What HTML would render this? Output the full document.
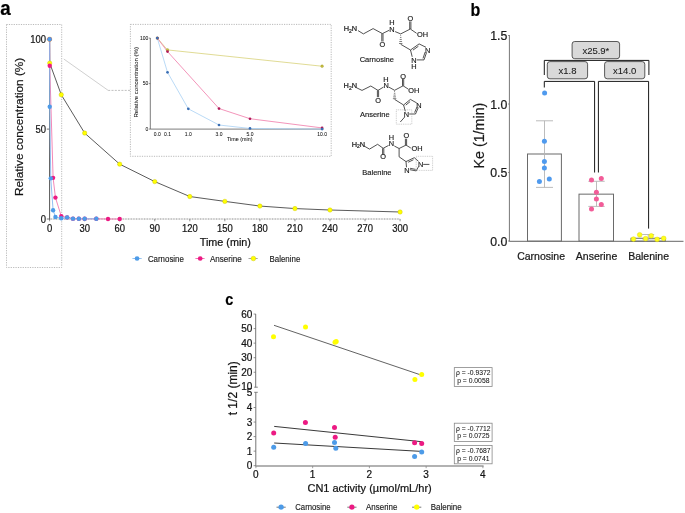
<!DOCTYPE html><html><head><meta charset="utf-8"><style>html,body{margin:0;padding:0;background:#fff;}svg{display:block;will-change:transform;}text{font-family:"Liberation Sans", sans-serif;stroke:#1a1a1a;stroke-width:0.22px;}</style></head><body>
<svg width="685" height="513" viewBox="0 0 685 513">
<rect width="685" height="513" fill="#fff"/>
<text x="0" y="0" font-size="19.4" text-anchor="start" fill="#000" font-weight="bold" transform="translate(0.2,15.2) scale(0.97,1)">a</text>
<rect x="6.5" y="24.5" width="55.2" height="243" fill="none" stroke="#a8a8a8" stroke-width="0.8" stroke-dasharray="1.2,1.2"/>
<rect x="130.4" y="24.4" width="200.8" height="131.9" fill="none" stroke="#a8a8a8" stroke-width="0.8" stroke-dasharray="1.2,1.2"/>
<polyline points="63.8,59 108.2,90.4" fill="none" stroke="#c4c4c4" stroke-width="0.8" stroke-linejoin="round" />
<line x1="108.2" y1="90.4" x2="130.4" y2="90.4" stroke="#b0b0b0" stroke-width="0.8" stroke-dasharray="2,1.3"/>
<line x1="49.6" y1="219" x2="400.1" y2="219" stroke="#808080" stroke-width="1.0" stroke-dasharray="0.9,0.7"/>
<line x1="49.6" y1="219" x2="49.6" y2="221.3" stroke="#777" stroke-width="0.8" />
<text x="49.6" y="231.6" font-size="10" text-anchor="middle" fill="#111" font-weight="normal" textLength="5.25" lengthAdjust="spacingAndGlyphs">0</text>
<line x1="84.65" y1="219" x2="84.65" y2="221.3" stroke="#777" stroke-width="0.8" />
<text x="84.65" y="231.6" font-size="10" text-anchor="middle" fill="#111" font-weight="normal" textLength="10.50" lengthAdjust="spacingAndGlyphs">30</text>
<line x1="119.7" y1="219" x2="119.7" y2="221.3" stroke="#777" stroke-width="0.8" />
<text x="119.7" y="231.6" font-size="10" text-anchor="middle" fill="#111" font-weight="normal" textLength="10.50" lengthAdjust="spacingAndGlyphs">60</text>
<line x1="154.75" y1="219" x2="154.75" y2="221.3" stroke="#777" stroke-width="0.8" />
<text x="154.75" y="231.6" font-size="10" text-anchor="middle" fill="#111" font-weight="normal" textLength="10.50" lengthAdjust="spacingAndGlyphs">90</text>
<line x1="189.8" y1="219" x2="189.8" y2="221.3" stroke="#777" stroke-width="0.8" />
<text x="189.8" y="231.6" font-size="10" text-anchor="middle" fill="#111" font-weight="normal" textLength="15.75" lengthAdjust="spacingAndGlyphs">120</text>
<line x1="224.84" y1="219" x2="224.84" y2="221.3" stroke="#777" stroke-width="0.8" />
<text x="224.84" y="231.6" font-size="10" text-anchor="middle" fill="#111" font-weight="normal" textLength="15.75" lengthAdjust="spacingAndGlyphs">150</text>
<line x1="259.89" y1="219" x2="259.89" y2="221.3" stroke="#777" stroke-width="0.8" />
<text x="259.89" y="231.6" font-size="10" text-anchor="middle" fill="#111" font-weight="normal" textLength="15.75" lengthAdjust="spacingAndGlyphs">180</text>
<line x1="294.94" y1="219" x2="294.94" y2="221.3" stroke="#777" stroke-width="0.8" />
<text x="294.94" y="231.6" font-size="10" text-anchor="middle" fill="#111" font-weight="normal" textLength="15.75" lengthAdjust="spacingAndGlyphs">210</text>
<line x1="329.99" y1="219" x2="329.99" y2="221.3" stroke="#777" stroke-width="0.8" />
<text x="329.99" y="231.6" font-size="10" text-anchor="middle" fill="#111" font-weight="normal" textLength="15.75" lengthAdjust="spacingAndGlyphs">240</text>
<line x1="365.04" y1="219" x2="365.04" y2="221.3" stroke="#777" stroke-width="0.8" />
<text x="365.04" y="231.6" font-size="10" text-anchor="middle" fill="#111" font-weight="normal" textLength="15.75" lengthAdjust="spacingAndGlyphs">270</text>
<line x1="400.09" y1="219" x2="400.09" y2="221.3" stroke="#777" stroke-width="0.8" />
<text x="400.09" y="231.6" font-size="10" text-anchor="middle" fill="#111" font-weight="normal" textLength="15.75" lengthAdjust="spacingAndGlyphs">300</text>
<line x1="49.6" y1="39" x2="49.6" y2="219.5" stroke="#555" stroke-width="1.0" />
<line x1="46.8" y1="219" x2="49.6" y2="219" stroke="#555" stroke-width="0.8" />
<text x="45.9" y="222.6" font-size="10" text-anchor="end" fill="#111" font-weight="normal" textLength="5.25" lengthAdjust="spacingAndGlyphs">0</text>
<line x1="46.8" y1="129.1" x2="49.6" y2="129.1" stroke="#555" stroke-width="0.8" />
<text x="45.9" y="132.7" font-size="10" text-anchor="end" fill="#111" font-weight="normal" textLength="10.50" lengthAdjust="spacingAndGlyphs">50</text>
<line x1="46.8" y1="39.2" x2="49.6" y2="39.2" stroke="#555" stroke-width="0.8" />
<text x="45.9" y="42.8" font-size="10" text-anchor="end" fill="#111" font-weight="normal" textLength="15.75" lengthAdjust="spacingAndGlyphs">100</text>
<text x="225.3" y="246.3" font-size="10.8" text-anchor="middle" fill="#111" font-weight="normal" >Time (min)</text>
<text x="0" y="0" font-size="11.8" text-anchor="middle" fill="#111" font-weight="normal" transform="translate(22.9,126.9) rotate(-90)">Relative concentration (%)</text>
<polyline points="49.6,39.2 49.72,63.11 61.28,94.76 84.65,133.06 119.7,164.16 154.75,181.6 189.8,196.53 224.84,201.38 259.89,206.05 294.94,208.57 329.99,210.01 400.09,211.99" fill="none" stroke="#484848" stroke-width="0.9" stroke-linejoin="round" />
<polyline points="49.6,39.2 49.72,65.81 53.1,177.83 55.44,197.6 61.28,216.12 67.12,217.38 72.97,218.64 78.81,218.82 84.65,218.82 96.33,218.82 108.01,219 119.7,219" fill="none" stroke="#f27bb0" stroke-width="0.9" stroke-linejoin="round" />
<polyline points="49.6,39.2 49.72,106.8 50.77,178.37 53.1,210.19 55.44,217.02 61.28,218.28 67.12,217.38 72.97,218.64 78.81,218.82 84.65,218.82 96.33,218.82" fill="none" stroke="#86b8f0" stroke-width="0.9" stroke-linejoin="round" />
<circle cx="49.6" cy="39.2" r="2.2" fill="#ffff00" stroke="#c8c000" stroke-width="0.4"/>
<circle cx="49.72" cy="63.11" r="2.2" fill="#ffff00" stroke="#c8c000" stroke-width="0.4"/>
<circle cx="61.28" cy="94.76" r="2.2" fill="#ffff00" stroke="#c8c000" stroke-width="0.4"/>
<circle cx="84.65" cy="133.06" r="2.2" fill="#ffff00" stroke="#c8c000" stroke-width="0.4"/>
<circle cx="119.7" cy="164.16" r="2.2" fill="#ffff00" stroke="#c8c000" stroke-width="0.4"/>
<circle cx="154.75" cy="181.6" r="2.2" fill="#ffff00" stroke="#c8c000" stroke-width="0.4"/>
<circle cx="189.8" cy="196.53" r="2.2" fill="#ffff00" stroke="#c8c000" stroke-width="0.4"/>
<circle cx="224.84" cy="201.38" r="2.2" fill="#ffff00" stroke="#c8c000" stroke-width="0.4"/>
<circle cx="259.89" cy="206.05" r="2.2" fill="#ffff00" stroke="#c8c000" stroke-width="0.4"/>
<circle cx="294.94" cy="208.57" r="2.2" fill="#ffff00" stroke="#c8c000" stroke-width="0.4"/>
<circle cx="329.99" cy="210.01" r="2.2" fill="#ffff00" stroke="#c8c000" stroke-width="0.4"/>
<circle cx="400.09" cy="211.99" r="2.2" fill="#ffff00" stroke="#c8c000" stroke-width="0.4"/>
<circle cx="49.6" cy="39.2" r="2.2" fill="#ec1a83" stroke="none" stroke-width="0"/>
<circle cx="49.72" cy="65.81" r="2.2" fill="#ec1a83" stroke="none" stroke-width="0"/>
<circle cx="53.1" cy="177.83" r="2.2" fill="#ec1a83" stroke="none" stroke-width="0"/>
<circle cx="55.44" cy="197.6" r="2.2" fill="#ec1a83" stroke="none" stroke-width="0"/>
<circle cx="61.28" cy="216.12" r="2.2" fill="#ec1a83" stroke="none" stroke-width="0"/>
<circle cx="67.12" cy="217.38" r="2.2" fill="#ec1a83" stroke="none" stroke-width="0"/>
<circle cx="72.97" cy="218.64" r="2.2" fill="#ec1a83" stroke="none" stroke-width="0"/>
<circle cx="78.81" cy="218.82" r="2.2" fill="#ec1a83" stroke="none" stroke-width="0"/>
<circle cx="84.65" cy="218.82" r="2.2" fill="#ec1a83" stroke="none" stroke-width="0"/>
<circle cx="96.33" cy="218.82" r="2.2" fill="#ec1a83" stroke="none" stroke-width="0"/>
<circle cx="108.01" cy="219" r="2.2" fill="#ec1a83" stroke="none" stroke-width="0"/>
<circle cx="119.7" cy="219" r="2.2" fill="#ec1a83" stroke="none" stroke-width="0"/>
<circle cx="49.6" cy="39.2" r="2.2" fill="#4d9be8" stroke="none" stroke-width="0"/>
<circle cx="49.72" cy="106.8" r="2.2" fill="#4d9be8" stroke="none" stroke-width="0"/>
<circle cx="50.77" cy="178.37" r="2.2" fill="#4d9be8" stroke="none" stroke-width="0"/>
<circle cx="53.1" cy="210.19" r="2.2" fill="#4d9be8" stroke="none" stroke-width="0"/>
<circle cx="55.44" cy="217.02" r="2.2" fill="#4d9be8" stroke="none" stroke-width="0"/>
<circle cx="61.28" cy="218.28" r="2.2" fill="#4d9be8" stroke="none" stroke-width="0"/>
<circle cx="67.12" cy="217.38" r="2.2" fill="#4d9be8" stroke="none" stroke-width="0"/>
<circle cx="72.97" cy="218.64" r="2.2" fill="#4d9be8" stroke="none" stroke-width="0"/>
<circle cx="78.81" cy="218.82" r="2.2" fill="#4d9be8" stroke="none" stroke-width="0"/>
<circle cx="84.65" cy="218.82" r="2.2" fill="#4d9be8" stroke="none" stroke-width="0"/>
<circle cx="96.33" cy="218.82" r="2.2" fill="#4d9be8" stroke="none" stroke-width="0"/>
<line x1="132.4" y1="258.5" x2="141.7" y2="258.5" stroke="#4d9be8" stroke-width="0.6" />
<circle cx="137.05" cy="258.5" r="2.35" fill="#4d9be8" stroke="none" stroke-width="0"/>
<text x="147.9" y="261.5" font-size="8.7" text-anchor="start" fill="#222" font-weight="normal" textLength="36.0" lengthAdjust="spacingAndGlyphs" style="stroke-width:0.15px">Carnosine</text>
<line x1="195.4" y1="258.5" x2="204.6" y2="258.5" stroke="#ec1a83" stroke-width="0.6" />
<circle cx="200.2" cy="258.5" r="2.35" fill="#ec1a83" stroke="none" stroke-width="0"/>
<text x="209.9" y="261.5" font-size="8.7" text-anchor="start" fill="#222" font-weight="normal" textLength="31.8" lengthAdjust="spacingAndGlyphs" style="stroke-width:0.15px">Anserine</text>
<line x1="248.5" y1="258.5" x2="257.7" y2="258.5" stroke="#666" stroke-width="0.6" />
<circle cx="253.4" cy="258.5" r="2.35" fill="#ffff00" stroke="#c8c000" stroke-width="0.4"/>
<text x="269.5" y="261.5" font-size="8.7" text-anchor="start" fill="#222" font-weight="normal" textLength="30.8" lengthAdjust="spacingAndGlyphs" style="stroke-width:0.15px">Balenine</text>
<line x1="150.3" y1="38" x2="150.3" y2="129.1" stroke="#5a5a5a" stroke-width="0.8" />
<line x1="150.3" y1="129.1" x2="323.5" y2="129.1" stroke="#5a5a5a" stroke-width="0.8" />
<line x1="148.8" y1="129.1" x2="150.3" y2="129.1" stroke="#444" stroke-width="0.6" />
<text x="148.3" y="130.9" font-size="5" text-anchor="end" fill="#111" font-weight="normal"  style="stroke-width:0.05px">0</text>
<line x1="148.8" y1="83.6" x2="150.3" y2="83.6" stroke="#444" stroke-width="0.6" />
<text x="148.3" y="85.4" font-size="5" text-anchor="end" fill="#111" font-weight="normal"  style="stroke-width:0.05px">50</text>
<line x1="148.8" y1="38.1" x2="150.3" y2="38.1" stroke="#444" stroke-width="0.6" />
<text x="148.3" y="39.9" font-size="5" text-anchor="end" fill="#111" font-weight="normal"  style="stroke-width:0.05px">100</text>
<text x="157.3" y="135.6" font-size="5" text-anchor="middle" fill="#111" font-weight="normal"  style="stroke-width:0.05px">0.0</text>
<text x="167.5" y="135.6" font-size="5" text-anchor="middle" fill="#111" font-weight="normal"  style="stroke-width:0.05px">0.1</text>
<text x="188.3" y="135.6" font-size="5" text-anchor="middle" fill="#111" font-weight="normal"  style="stroke-width:0.05px">1.0</text>
<text x="219" y="135.6" font-size="5" text-anchor="middle" fill="#111" font-weight="normal"  style="stroke-width:0.05px">3.0</text>
<text x="250" y="135.6" font-size="5" text-anchor="middle" fill="#111" font-weight="normal"  style="stroke-width:0.05px">5.0</text>
<text x="322.1" y="135.6" font-size="5" text-anchor="middle" fill="#111" font-weight="normal"  style="stroke-width:0.05px">10.0</text>
<text x="239.8" y="141" font-size="5.4" text-anchor="middle" fill="#111" font-weight="normal"  style="stroke-width:0.05px">Time (min)</text>
<text x="0" y="0" font-size="6" text-anchor="middle" fill="#111" font-weight="normal" transform="translate(137.9,82.3) rotate(-90)" style="stroke-width:0.05px">Relative concentration (%)</text>
<polyline points="157.3,38.1 167.5,49.93 322.1,66.22" fill="none" stroke="#d8d27a" stroke-width="0.8" stroke-linejoin="round" />
<polyline points="157.3,38.1 167.5,51.57 219,108.53 250,118.73 322.1,127.92" fill="none" stroke="#f07aa8" stroke-width="0.8" stroke-linejoin="round" />
<polyline points="157.3,38.1 167.5,72.32 188.3,108.81 219,125 250,128.46 322.1,129.1" fill="none" stroke="#a8d0f4" stroke-width="0.8" stroke-linejoin="round" />
<circle cx="157.3" cy="38.1" r="1.35" fill="#c8c040" stroke="#8a8420" stroke-width="0.3"/>
<circle cx="167.5" cy="49.93" r="1.35" fill="#c8c040" stroke="#8a8420" stroke-width="0.3"/>
<circle cx="322.1" cy="66.22" r="1.35" fill="#c8c040" stroke="#8a8420" stroke-width="0.3"/>
<circle cx="157.3" cy="38.1" r="1.35" fill="#b01a5a" stroke="none" stroke-width="0"/>
<circle cx="167.5" cy="51.57" r="1.35" fill="#b01a5a" stroke="none" stroke-width="0"/>
<circle cx="219" cy="108.53" r="1.35" fill="#b01a5a" stroke="none" stroke-width="0"/>
<circle cx="250" cy="118.73" r="1.35" fill="#b01a5a" stroke="none" stroke-width="0"/>
<circle cx="322.1" cy="127.92" r="1.35" fill="#b01a5a" stroke="none" stroke-width="0"/>
<circle cx="157.3" cy="38.1" r="1.35" fill="#3a6eb4" stroke="none" stroke-width="0"/>
<circle cx="167.5" cy="72.32" r="1.35" fill="#3a6eb4" stroke="none" stroke-width="0"/>
<circle cx="188.3" cy="108.81" r="1.35" fill="#3a6eb4" stroke="none" stroke-width="0"/>
<circle cx="219" cy="125" r="1.35" fill="#3a6eb4" stroke="none" stroke-width="0"/>
<circle cx="250" cy="128.46" r="1.35" fill="#3a6eb4" stroke="none" stroke-width="0"/>
<circle cx="322.1" cy="129.1" r="1.35" fill="#3a6eb4" stroke="none" stroke-width="0"/>
<text x="343.7" y="31.45" font-size="7.4" fill="#1a1a1a" textLength="13.4" lengthAdjust="spacingAndGlyphs">H<tspan font-size="5" dy="1.6">2</tspan><tspan dy="-1.6">N</tspan></text>
<polyline points="358,30.6 363.4,33.9 373.1,28.6 382.4,33.6 389.3,30.2" fill="none" stroke="#262626" stroke-width="0.8" stroke-linejoin="round" />
<line x1="381.8" y1="33.6" x2="381.8" y2="41.5" stroke="#262626" stroke-width="0.8" />
<line x1="383" y1="33.6" x2="383" y2="41.5" stroke="#262626" stroke-width="0.8" />
<text x="382.4" y="47.45" font-size="7.4" text-anchor="middle" fill="#1a1a1a" font-weight="normal"  style="stroke-width:0.15px">O</text>
<text x="392" y="31.65" font-size="7.4" text-anchor="middle" fill="#1a1a1a" font-weight="normal"  style="stroke-width:0.15px">N</text>
<text x="392" y="24.85" font-size="7.4" text-anchor="middle" fill="#1a1a1a" font-weight="normal"  style="stroke-width:0.15px">H</text>
<polyline points="395.1,31.6 400.7,33.9 410.3,29 416.6,33.3" fill="none" stroke="#262626" stroke-width="0.8" stroke-linejoin="round" />
<line x1="409.7" y1="29" x2="409.7" y2="21.4" stroke="#262626" stroke-width="0.8" />
<line x1="410.9" y1="29" x2="410.9" y2="21.4" stroke="#262626" stroke-width="0.8" />
<text x="410.3" y="20.55" font-size="7.4" text-anchor="middle" fill="#1a1a1a" font-weight="normal"  style="stroke-width:0.15px">O</text>
<text x="417.1" y="36.75" font-size="7.4" text-anchor="start" fill="#1a1a1a" font-weight="normal"  style="stroke-width:0.15px">OH</text>
<line x1="400.3" y1="35.41" x2="401.1" y2="35.41" stroke="#262626" stroke-width="0.6" />
<line x1="399.97" y1="37.43" x2="401.43" y2="37.43" stroke="#262626" stroke-width="0.6" />
<line x1="399.65" y1="39.45" x2="401.75" y2="39.45" stroke="#262626" stroke-width="0.6" />
<line x1="399.32" y1="41.47" x2="402.07" y2="41.47" stroke="#262626" stroke-width="0.6" />
<line x1="399" y1="43.49" x2="402.4" y2="43.49" stroke="#262626" stroke-width="0.6" />
<polyline points="400.7,44.3 410.5,50 419.1,43.9 426,47.3" fill="none" stroke="#262626" stroke-width="0.8" stroke-linejoin="round" />
<line x1="412.92" y1="50.13" x2="418.42" y2="46.22" stroke="#262626" stroke-width="0.8" />
<text x="427.7" y="52.65" font-size="7.4" text-anchor="middle" fill="#1a1a1a" font-weight="normal"  style="stroke-width:0.15px">N</text>
<polyline points="426.5,52.6 424,59.9 416.7,59.9" fill="none" stroke="#262626" stroke-width="0.8" stroke-linejoin="round" />
<line x1="425.14" y1="52.07" x2="423.01" y2="58.45" stroke="#262626" stroke-width="0.8" />
<text x="413.8" y="62.95" font-size="7.4" text-anchor="middle" fill="#1a1a1a" font-weight="normal"  style="stroke-width:0.15px">N</text>
<text x="413.8" y="69.25" font-size="7.4" text-anchor="middle" fill="#1a1a1a" font-weight="normal"  style="stroke-width:0.15px">H</text>
<polyline points="412.2,56.8 410.5,50" fill="none" stroke="#262626" stroke-width="0.8" stroke-linejoin="round" />
<text x="376.8" y="62.4" font-size="7.5" text-anchor="middle" fill="#1a1a1a" font-weight="normal"  style="stroke-width:0.15px">Carnosine</text>
<text x="343.6" y="87.95" font-size="7.4" fill="#1a1a1a" textLength="13.4" lengthAdjust="spacingAndGlyphs">H<tspan font-size="5" dy="1.6">2</tspan><tspan dy="-1.6">N</tspan></text>
<polyline points="356.2,87.6 362,90.4 370.8,86 378,90.4 383.6,87" fill="none" stroke="#262626" stroke-width="0.8" stroke-linejoin="round" />
<line x1="377.4" y1="90.4" x2="377.4" y2="97.2" stroke="#262626" stroke-width="0.8" />
<line x1="378.6" y1="90.4" x2="378.6" y2="97.2" stroke="#262626" stroke-width="0.8" />
<text x="378" y="102.85" font-size="7.4" text-anchor="middle" fill="#1a1a1a" font-weight="normal"  style="stroke-width:0.15px">O</text>
<text x="386.1" y="88.15" font-size="7.4" text-anchor="middle" fill="#1a1a1a" font-weight="normal"  style="stroke-width:0.15px">N</text>
<text x="385.8" y="82.25" font-size="7.4" text-anchor="middle" fill="#1a1a1a" font-weight="normal"  style="stroke-width:0.15px">H</text>
<polyline points="389,87.2 394.6,90.3 403.1,85.8 408.4,89.2" fill="none" stroke="#262626" stroke-width="0.8" stroke-linejoin="round" />
<line x1="402.5" y1="85.8" x2="402.5" y2="79" stroke="#262626" stroke-width="0.8" />
<line x1="403.7" y1="85.8" x2="403.7" y2="79" stroke="#262626" stroke-width="0.8" />
<text x="403.1" y="78.55" font-size="7.4" text-anchor="middle" fill="#1a1a1a" font-weight="normal"  style="stroke-width:0.15px">O</text>
<text x="408.3" y="92.95" font-size="7.4" text-anchor="start" fill="#1a1a1a" font-weight="normal"  style="stroke-width:0.15px">OH</text>
<line x1="394.2" y1="91.48" x2="395" y2="91.48" stroke="#262626" stroke-width="0.6" />
<line x1="393.88" y1="93.28" x2="395.33" y2="93.28" stroke="#262626" stroke-width="0.6" />
<line x1="393.55" y1="95.08" x2="395.65" y2="95.08" stroke="#262626" stroke-width="0.6" />
<line x1="393.23" y1="96.88" x2="395.98" y2="96.88" stroke="#262626" stroke-width="0.6" />
<line x1="392.9" y1="98.68" x2="396.3" y2="98.68" stroke="#262626" stroke-width="0.6" />
<polyline points="394.6,99.4 403.6,105 410.4,99.4 416.8,103" fill="none" stroke="#262626" stroke-width="0.8" stroke-linejoin="round" />
<line x1="405.78" y1="105.15" x2="410.13" y2="101.57" stroke="#262626" stroke-width="0.8" />
<text x="418.9" y="107.65" font-size="7.4" text-anchor="middle" fill="#1a1a1a" font-weight="normal"  style="stroke-width:0.15px">N</text>
<polyline points="418.3,107.6 415.5,114 409.2,114" fill="none" stroke="#262626" stroke-width="0.8" stroke-linejoin="round" />
<line x1="416.94" y1="107.11" x2="414.59" y2="112.58" stroke="#262626" stroke-width="0.8" />
<text x="406.5" y="116.65" font-size="7.4" text-anchor="middle" fill="#1a1a1a" font-weight="normal"  style="stroke-width:0.15px">N</text>
<polyline points="405.3,111.3 403.6,105" fill="none" stroke="#262626" stroke-width="0.8" stroke-linejoin="round" />
<polyline points="404.8,116.9 400.3,122" fill="none" stroke="#262626" stroke-width="0.8" stroke-linejoin="round" />
<rect x="396.3" y="109.8" width="15.5" height="14.4" fill="none" stroke="#9a9a9a" stroke-width="0.5" stroke-dasharray="1,0.8"/>
<text x="374.8" y="117.1" font-size="7.5" text-anchor="middle" fill="#1a1a1a" font-weight="normal"  style="stroke-width:0.15px">Anserine</text>
<text x="351.7" y="146.65" font-size="7.4" fill="#1a1a1a" textLength="13.4" lengthAdjust="spacingAndGlyphs">H<tspan font-size="5" dy="1.6">2</tspan><tspan dy="-1.6">N</tspan></text>
<polyline points="363.9,145.9 369.5,149.1 377.6,144.3 383.2,148.3 388.6,145.4" fill="none" stroke="#262626" stroke-width="0.8" stroke-linejoin="round" />
<line x1="382.6" y1="148.3" x2="382.6" y2="154.7" stroke="#262626" stroke-width="0.8" />
<line x1="383.8" y1="148.3" x2="383.8" y2="154.7" stroke="#262626" stroke-width="0.8" />
<text x="383.2" y="159.25" font-size="7.4" text-anchor="middle" fill="#1a1a1a" font-weight="normal"  style="stroke-width:0.15px">O</text>
<text x="391.3" y="146.35" font-size="7.4" text-anchor="middle" fill="#1a1a1a" font-weight="normal"  style="stroke-width:0.15px">N</text>
<text x="391.3" y="139.95" font-size="7.4" text-anchor="middle" fill="#1a1a1a" font-weight="normal"  style="stroke-width:0.15px">H</text>
<polyline points="394.3,146 399.1,148.5 406,145.1 410.8,148" fill="none" stroke="#262626" stroke-width="0.8" stroke-linejoin="round" />
<line x1="405.4" y1="145.1" x2="405.4" y2="138.7" stroke="#262626" stroke-width="0.8" />
<line x1="406.6" y1="145.1" x2="406.6" y2="138.7" stroke="#262626" stroke-width="0.8" />
<text x="406.3" y="137.55" font-size="7.4" text-anchor="middle" fill="#1a1a1a" font-weight="normal"  style="stroke-width:0.15px">O</text>
<text x="411.6" y="150.65" font-size="7.4" text-anchor="start" fill="#1a1a1a" font-weight="normal"  style="stroke-width:0.15px">OH</text>
<polyline points="399.1,148.5 399.1,156.8 406,161.6 414.3,157.7 418.6,161.4" fill="none" stroke="#262626" stroke-width="0.8" stroke-linejoin="round" />
<line x1="408.13" y1="162.26" x2="413.44" y2="159.76" stroke="#262626" stroke-width="0.8" />
<text x="420.6" y="166.75" font-size="7.4" text-anchor="middle" fill="#1a1a1a" font-weight="normal"  style="stroke-width:0.15px">N</text>
<polyline points="423.2,164.4 429.4,164.4" fill="none" stroke="#262626" stroke-width="0.8" stroke-linejoin="round" />
<polyline points="418.6,166.5 416.2,170.9" fill="none" stroke="#262626" stroke-width="0.8" stroke-linejoin="round" />
<line x1="409.9" y1="169.7" x2="416.2" y2="170.9" stroke="#262626" stroke-width="0.8" />
<line x1="410.1" y1="168.3" x2="415.6" y2="169.4" stroke="#262626" stroke-width="0.8" />
<text x="406.9" y="172.55" font-size="7.4" text-anchor="middle" fill="#1a1a1a" font-weight="normal"  style="stroke-width:0.15px">N</text>
<polyline points="406.5,167.3 406,161.6" fill="none" stroke="#262626" stroke-width="0.8" stroke-linejoin="round" />
<rect x="416.2" y="156.3" width="16.4" height="14.1" fill="none" stroke="#9a9a9a" stroke-width="0.5" stroke-dasharray="1,0.8"/>
<text x="376.9" y="174.6" font-size="7.5" text-anchor="middle" fill="#1a1a1a" font-weight="normal"  style="stroke-width:0.15px">Balenine</text>
<text x="0" y="0" font-size="18.4" text-anchor="start" fill="#000" font-weight="bold" transform="translate(470.5,15.8) scale(0.87,1)">b</text>
<line x1="509.4" y1="35" x2="509.4" y2="241.5" stroke="#777" stroke-width="1.0" />
<line x1="509.4" y1="241.3" x2="683.5" y2="241.3" stroke="#666" stroke-width="1.0" />
<line x1="508" y1="241" x2="509.4" y2="241" stroke="#777" stroke-width="0.8" />
<text x="507.3" y="245.5" font-size="12.3" text-anchor="end" fill="#1a1a1a" font-weight="normal" >0.0</text>
<line x1="508" y1="172.5" x2="509.4" y2="172.5" stroke="#777" stroke-width="0.8" />
<text x="507.3" y="177" font-size="12.3" text-anchor="end" fill="#1a1a1a" font-weight="normal" >0.5</text>
<line x1="508" y1="104" x2="509.4" y2="104" stroke="#777" stroke-width="0.8" />
<text x="507.3" y="108.5" font-size="12.3" text-anchor="end" fill="#1a1a1a" font-weight="normal" >1.0</text>
<line x1="508" y1="35.5" x2="509.4" y2="35.5" stroke="#777" stroke-width="0.8" />
<text x="507.3" y="40" font-size="12.3" text-anchor="end" fill="#1a1a1a" font-weight="normal" >1.5</text>
<text x="0" y="0" font-size="14.3" text-anchor="middle" fill="#1a1a1a" font-weight="normal" transform="translate(483.5,135.6) rotate(-90)">Ke (1/min)</text>
<rect x="527.5" y="154" width="33.9" height="87" fill="#fff" stroke="#6a6a6a" stroke-width="1"/>
<rect x="579.0" y="194.15" width="34.5" height="46.85" fill="#fff" stroke="#6a6a6a" stroke-width="1"/>
<rect x="631.0" y="238.26" width="34.3" height="2.74" fill="#fff" stroke="#6a6a6a" stroke-width="1"/>
<line x1="544.5" y1="120.8" x2="544.5" y2="187.4" stroke="#b4b4b4" stroke-width="0.9" />
<line x1="536" y1="120.8" x2="553" y2="120.8" stroke="#b4b4b4" stroke-width="0.9" />
<line x1="536" y1="187.4" x2="553" y2="187.4" stroke="#b4b4b4" stroke-width="0.9" />
<line x1="596.5" y1="181.3" x2="596.5" y2="206.4" stroke="#b4b4b4" stroke-width="0.9" />
<line x1="588.3" y1="181.3" x2="604.7" y2="181.3" stroke="#b4b4b4" stroke-width="0.9" />
<line x1="588.3" y1="206.4" x2="604.7" y2="206.4" stroke="#b4b4b4" stroke-width="0.9" />
<line x1="648.2" y1="234.5" x2="648.2" y2="240" stroke="#b4b4b4" stroke-width="0.9" />
<line x1="642.2" y1="234.5" x2="654.2" y2="234.5" stroke="#b4b4b4" stroke-width="0.9" />
<line x1="642.2" y1="240" x2="654.2" y2="240" stroke="#b4b4b4" stroke-width="0.9" />
<path d="M544.3,75 V60.4 H648.9 V75" fill="none" stroke="#181818" stroke-width="1"/>
<path d="M544.3,87.5 V81.4 H594.6 V172.5" fill="none" stroke="#181818" stroke-width="1"/>
<path d="M598.4,172.5 V81.4 H648.6 V228.6" fill="none" stroke="#181818" stroke-width="1"/>
<rect x="572.1" y="41.5" width="47.5" height="17.2" rx="2.6" fill="#d9d9d9" stroke="#333" stroke-width="0.8"/>
<text x="595.85" y="53.5" font-size="9.5" text-anchor="middle" fill="#1a1a1a" font-weight="normal" style="stroke-width:0.08px">x25.9*</text>
<rect x="547.3" y="61.6" width="40.3" height="17.2" rx="2.6" fill="#d9d9d9" stroke="#333" stroke-width="0.8"/>
<text x="567.45" y="73.6" font-size="9.5" text-anchor="middle" fill="#1a1a1a" font-weight="normal" style="stroke-width:0.08px">x1.8</text>
<rect x="604.6" y="61.6" width="40.2" height="17.2" rx="2.6" fill="#d9d9d9" stroke="#333" stroke-width="0.8"/>
<text x="624.7" y="73.6" font-size="9.5" text-anchor="middle" fill="#1a1a1a" font-weight="normal" style="stroke-width:0.08px">x14.0</text>
<circle cx="544.6" cy="92.9" r="2.5" fill="#4f9aee" stroke="none" stroke-width="0"/>
<circle cx="544.4" cy="141.2" r="2.5" fill="#4f9aee" stroke="none" stroke-width="0"/>
<circle cx="544.4" cy="161.6" r="2.5" fill="#4f9aee" stroke="none" stroke-width="0"/>
<circle cx="544.4" cy="167.9" r="2.5" fill="#4f9aee" stroke="none" stroke-width="0"/>
<circle cx="539.4" cy="181.6" r="2.5" fill="#4f9aee" stroke="none" stroke-width="0"/>
<circle cx="549.3" cy="179" r="2.5" fill="#4f9aee" stroke="none" stroke-width="0"/>
<circle cx="591.5" cy="180.1" r="2.5" fill="#f25c98" stroke="none" stroke-width="0"/>
<circle cx="601.3" cy="178.5" r="2.5" fill="#f25c98" stroke="none" stroke-width="0"/>
<circle cx="596.4" cy="192.2" r="2.5" fill="#f25c98" stroke="none" stroke-width="0"/>
<circle cx="596.4" cy="199" r="2.5" fill="#f25c98" stroke="none" stroke-width="0"/>
<circle cx="601.3" cy="204.6" r="2.5" fill="#f25c98" stroke="none" stroke-width="0"/>
<circle cx="591.5" cy="209" r="2.5" fill="#f25c98" stroke="none" stroke-width="0"/>
<circle cx="633.5" cy="239.1" r="2.4" fill="#ffff1a" stroke="#d8d000" stroke-width="0.4"/>
<circle cx="639.7" cy="234.8" r="2.4" fill="#ffff1a" stroke="#d8d000" stroke-width="0.4"/>
<circle cx="645.6" cy="238.7" r="2.4" fill="#ffff1a" stroke="#d8d000" stroke-width="0.4"/>
<circle cx="651.2" cy="235.8" r="2.4" fill="#ffff1a" stroke="#d8d000" stroke-width="0.4"/>
<circle cx="657.1" cy="239.4" r="2.4" fill="#ffff1a" stroke="#d8d000" stroke-width="0.4"/>
<circle cx="663.7" cy="238.4" r="2.4" fill="#ffff1a" stroke="#d8d000" stroke-width="0.4"/>
<text x="541.1" y="260.4" font-size="10.5" text-anchor="middle" fill="#1a1a1a" font-weight="normal" >Carnosine</text>
<text x="596.6" y="260.4" font-size="10.5" text-anchor="middle" fill="#1a1a1a" font-weight="normal" >Anserine</text>
<text x="648.6" y="260.4" font-size="10.5" text-anchor="middle" fill="#1a1a1a" font-weight="normal" >Balenine</text>
<text x="0" y="0" font-size="17" text-anchor="start" fill="#000" font-weight="bold" transform="translate(225.3,305) scale(0.85,1)">c</text>
<line x1="255.7" y1="314" x2="255.7" y2="387.4" stroke="#666" stroke-width="0.9" />
<line x1="255.8" y1="392.1" x2="255.8" y2="466.4" stroke="#666" stroke-width="0.9" />
<line x1="254.2" y1="387.2" x2="257.8" y2="387.2" stroke="#777" stroke-width="0.9" />
<line x1="254.2" y1="392.3" x2="257.8" y2="392.3" stroke="#777" stroke-width="0.9" />
<line x1="253.6" y1="372.25" x2="255.9" y2="372.25" stroke="#777" stroke-width="0.8" />
<line x1="253.6" y1="357.7" x2="255.9" y2="357.7" stroke="#777" stroke-width="0.8" />
<line x1="253.6" y1="343.15" x2="255.9" y2="343.15" stroke="#777" stroke-width="0.8" />
<line x1="253.6" y1="328.6" x2="255.9" y2="328.6" stroke="#777" stroke-width="0.8" />
<line x1="253.6" y1="314.05" x2="255.9" y2="314.05" stroke="#777" stroke-width="0.8" />
<text x="252.4" y="390.3" font-size="10" text-anchor="end" fill="#111" font-weight="normal" >10</text>
<text x="252.4" y="375.75" font-size="10" text-anchor="end" fill="#111" font-weight="normal" >20</text>
<text x="252.4" y="361.2" font-size="10" text-anchor="end" fill="#111" font-weight="normal" >30</text>
<text x="252.4" y="346.65" font-size="10" text-anchor="end" fill="#111" font-weight="normal" >40</text>
<text x="252.4" y="332.1" font-size="10" text-anchor="end" fill="#111" font-weight="normal" >50</text>
<text x="252.4" y="317.55" font-size="10" text-anchor="end" fill="#111" font-weight="normal" >60</text>
<line x1="253.6" y1="465.7" x2="255.9" y2="465.7" stroke="#777" stroke-width="0.8" />
<line x1="253.6" y1="451.15" x2="255.9" y2="451.15" stroke="#777" stroke-width="0.8" />
<line x1="253.6" y1="436.6" x2="255.9" y2="436.6" stroke="#777" stroke-width="0.8" />
<line x1="253.6" y1="422.05" x2="255.9" y2="422.05" stroke="#777" stroke-width="0.8" />
<line x1="253.6" y1="407.5" x2="255.9" y2="407.5" stroke="#777" stroke-width="0.8" />
<text x="252.4" y="469.2" font-size="10" text-anchor="end" fill="#111" font-weight="normal" >0</text>
<text x="252.4" y="454.65" font-size="10" text-anchor="end" fill="#111" font-weight="normal" >1</text>
<text x="252.4" y="440.1" font-size="10" text-anchor="end" fill="#111" font-weight="normal" >2</text>
<text x="252.4" y="425.55" font-size="10" text-anchor="end" fill="#111" font-weight="normal" >3</text>
<text x="252.4" y="411" font-size="10" text-anchor="end" fill="#111" font-weight="normal" >4</text>
<text x="252.4" y="396.45" font-size="10" text-anchor="end" fill="#111" font-weight="normal" >5</text>
<line x1="255.9" y1="466" x2="483.6" y2="466" stroke="#999" stroke-width="1.5" />
<line x1="255.9" y1="466" x2="255.9" y2="468.2" stroke="#888" stroke-width="0.8" />
<text x="255.9" y="478.4" font-size="10" text-anchor="middle" fill="#111" font-weight="normal" >0</text>
<line x1="312.65" y1="466" x2="312.65" y2="468.2" stroke="#888" stroke-width="0.8" />
<text x="312.65" y="478.4" font-size="10" text-anchor="middle" fill="#111" font-weight="normal" >1</text>
<line x1="369.4" y1="466" x2="369.4" y2="468.2" stroke="#888" stroke-width="0.8" />
<text x="369.4" y="478.4" font-size="10" text-anchor="middle" fill="#111" font-weight="normal" >2</text>
<line x1="426.15" y1="466" x2="426.15" y2="468.2" stroke="#888" stroke-width="0.8" />
<text x="426.15" y="478.4" font-size="10" text-anchor="middle" fill="#111" font-weight="normal" >3</text>
<line x1="482.9" y1="466" x2="482.9" y2="468.2" stroke="#888" stroke-width="0.8" />
<text x="482.9" y="478.4" font-size="10" text-anchor="middle" fill="#111" font-weight="normal" >4</text>
<text x="0" y="0" font-size="12" text-anchor="middle" fill="#111" font-weight="normal" transform="translate(237.2,388.3) rotate(-90)">t 1/2 (min)</text>
<text x="369.6" y="492.4" font-size="11" text-anchor="middle" fill="#111" font-weight="normal" >CN1 activity (µmol/mL/hr)</text>
<polyline points="274,325.3 419.8,374.6" fill="none" stroke="#505050" stroke-width="0.9" stroke-linejoin="round" />
<polyline points="274.2,426.4 421.5,441.7" fill="none" stroke="#222" stroke-width="0.9" stroke-linejoin="round" />
<polyline points="274.2,443 421.5,451.4" fill="none" stroke="#222" stroke-width="0.9" stroke-linejoin="round" />
<circle cx="273.5" cy="336.7" r="2.5" fill="#ffff00" stroke="none" stroke-width="0"/>
<circle cx="305.5" cy="327.1" r="2.5" fill="#ffff00" stroke="none" stroke-width="0"/>
<circle cx="335" cy="342.3" r="2.5" fill="#ffff00" stroke="none" stroke-width="0"/>
<circle cx="336.2" cy="341.6" r="2.5" fill="#ffff00" stroke="none" stroke-width="0"/>
<circle cx="414.9" cy="379.4" r="2.5" fill="#ffff00" stroke="none" stroke-width="0"/>
<circle cx="421.7" cy="374.4" r="2.5" fill="#ffff00" stroke="none" stroke-width="0"/>
<circle cx="273.7" cy="433" r="2.5" fill="#ec1a83" stroke="none" stroke-width="0"/>
<circle cx="305.4" cy="422.6" r="2.5" fill="#ec1a83" stroke="none" stroke-width="0"/>
<circle cx="334.5" cy="427.6" r="2.5" fill="#ec1a83" stroke="none" stroke-width="0"/>
<circle cx="335.2" cy="437.3" r="2.5" fill="#ec1a83" stroke="none" stroke-width="0"/>
<circle cx="414.6" cy="442.8" r="2.5" fill="#ec1a83" stroke="none" stroke-width="0"/>
<circle cx="421.7" cy="443.6" r="2.5" fill="#ec1a83" stroke="none" stroke-width="0"/>
<circle cx="273.7" cy="447.2" r="2.5" fill="#4d9be8" stroke="none" stroke-width="0"/>
<circle cx="305.6" cy="443.5" r="2.5" fill="#4d9be8" stroke="none" stroke-width="0"/>
<circle cx="334.5" cy="442.6" r="2.5" fill="#4d9be8" stroke="none" stroke-width="0"/>
<circle cx="335.8" cy="448.3" r="2.5" fill="#4d9be8" stroke="none" stroke-width="0"/>
<circle cx="414.6" cy="456.5" r="2.5" fill="#4d9be8" stroke="none" stroke-width="0"/>
<circle cx="421.7" cy="452" r="2.5" fill="#4d9be8" stroke="none" stroke-width="0"/>
<rect x="454.3" y="367.6" width="37.8" height="18.9" fill="#fff" stroke="#888" stroke-width="0.8"/>
<text x="473.3" y="375.2" font-size="6.8" text-anchor="middle" fill="#111" font-weight="normal"  style="stroke-width:0.05px">ρ = -0.9372</text>
<text x="473.3" y="382.8" font-size="6.8" text-anchor="middle" fill="#111" font-weight="normal"  style="stroke-width:0.05px">p = 0.0058</text>
<rect x="454.3" y="423.2" width="37.8" height="18.3" fill="#fff" stroke="#888" stroke-width="0.8"/>
<text x="473.3" y="430.8" font-size="6.8" text-anchor="middle" fill="#111" font-weight="normal"  style="stroke-width:0.05px">ρ = -0.7712</text>
<text x="473.3" y="438.4" font-size="6.8" text-anchor="middle" fill="#111" font-weight="normal"  style="stroke-width:0.05px">p = 0.0725</text>
<rect x="454.3" y="445.4" width="37.8" height="18.4" fill="#fff" stroke="#888" stroke-width="0.8"/>
<text x="473.3" y="453" font-size="6.8" text-anchor="middle" fill="#111" font-weight="normal"  style="stroke-width:0.05px">ρ = -0.7687</text>
<text x="473.3" y="460.6" font-size="6.8" text-anchor="middle" fill="#111" font-weight="normal"  style="stroke-width:0.05px">p = 0.0741</text>
<line x1="276.5" y1="507.2" x2="285.7" y2="507.2" stroke="#555" stroke-width="0.8" />
<circle cx="281.1" cy="507.2" r="2.6" fill="#4d9be8" stroke="none" stroke-width="0"/>
<text x="295.3" y="509.8" font-size="8.6" text-anchor="start" fill="#222" font-weight="normal" textLength="35.2" lengthAdjust="spacingAndGlyphs" style="stroke-width:0.15px">Carnosine</text>
<line x1="347.3" y1="507.2" x2="356.5" y2="507.2" stroke="#555" stroke-width="0.8" />
<circle cx="351.9" cy="507.2" r="2.6" fill="#ec1a83" stroke="none" stroke-width="0"/>
<text x="366" y="509.8" font-size="8.6" text-anchor="start" fill="#222" font-weight="normal" textLength="31.4" lengthAdjust="spacingAndGlyphs" style="stroke-width:0.15px">Anserine</text>
<line x1="412.1" y1="507.2" x2="421.3" y2="507.2" stroke="#555" stroke-width="0.8" />
<circle cx="416.7" cy="507.2" r="2.6" fill="#ffff00" stroke="none" stroke-width="0"/>
<text x="430.8" y="509.8" font-size="8.6" text-anchor="start" fill="#222" font-weight="normal" textLength="30.9" lengthAdjust="spacingAndGlyphs" style="stroke-width:0.15px">Balenine</text>
</svg></body></html>
